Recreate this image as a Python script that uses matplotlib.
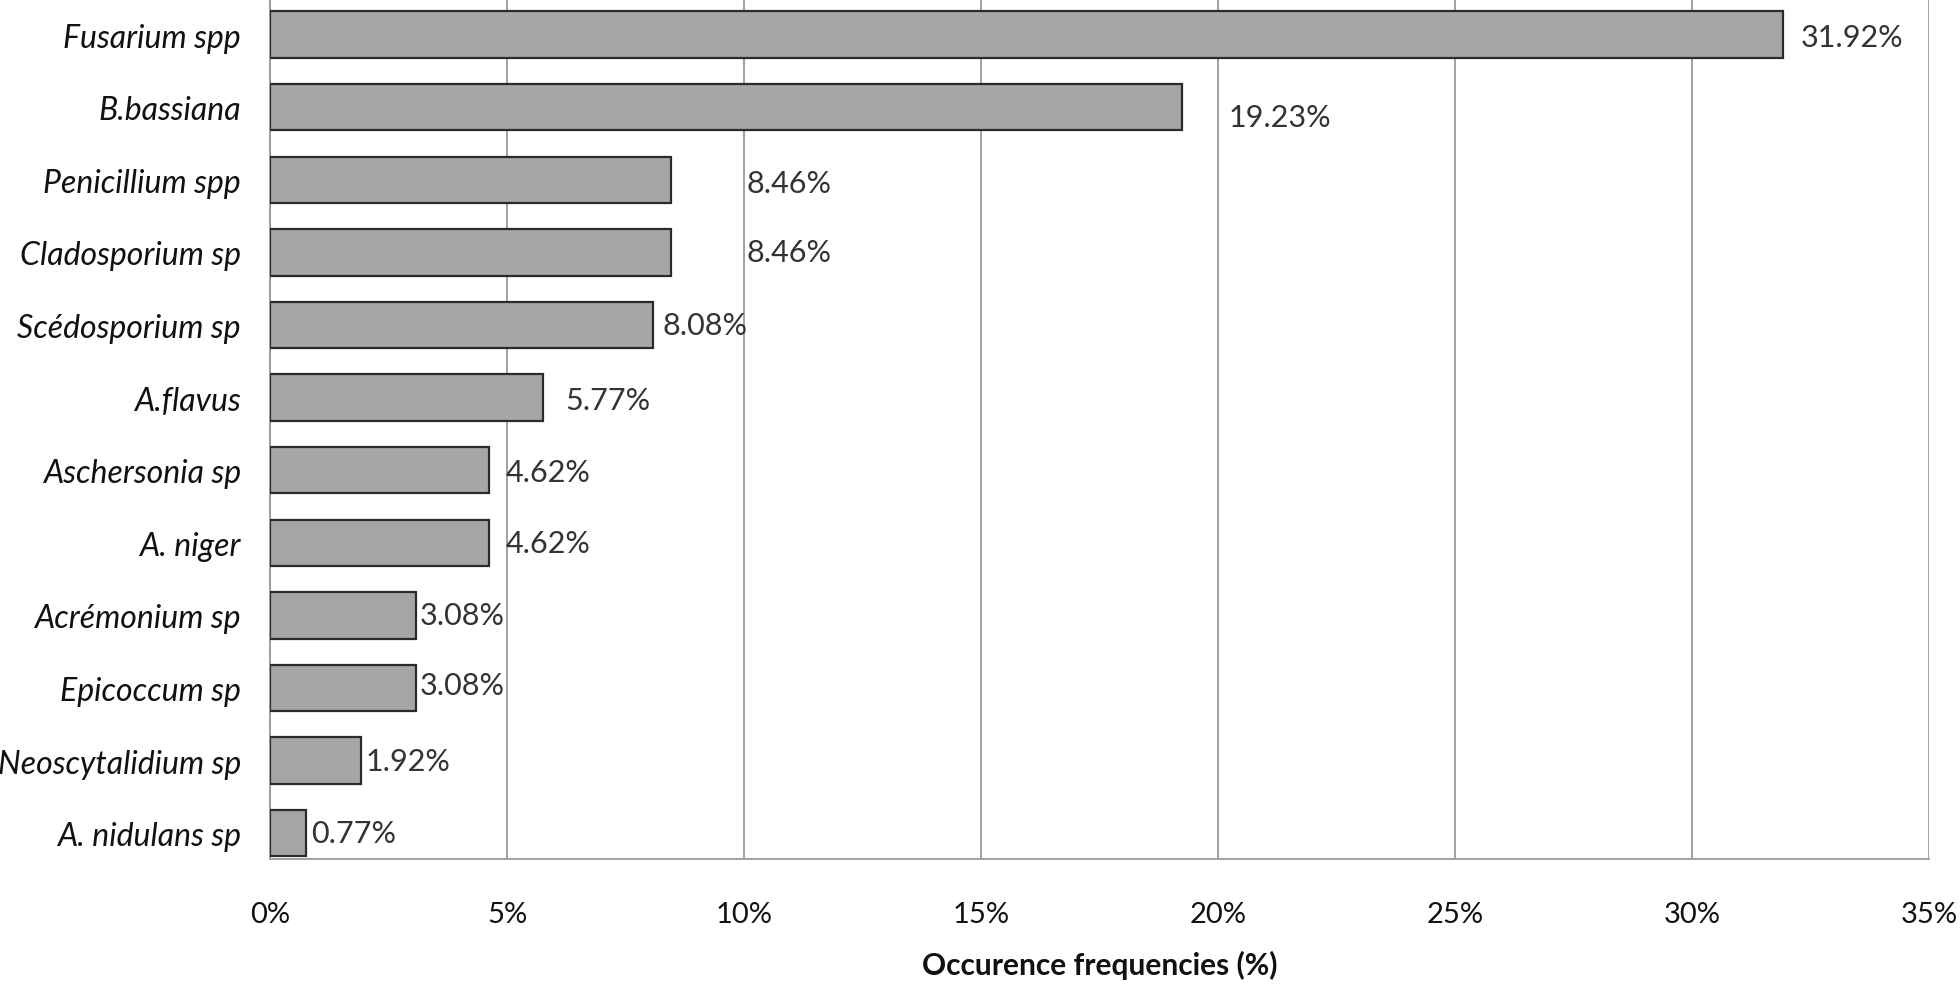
import matplotlib
matplotlib.use("Agg")
import matplotlib.pyplot as plt
from matplotlib.ticker import FuncFormatter

categories = ["Fusarium spp", "B.bassiana", "Penicillium spp", "Cladosporium sp",
              "Scédosporium sp", "A.flavus", "Aschersonia sp", "A. niger",
              "Acrémonium sp", "Epicoccum sp", "Neoscytalidium sp", "A. nidulans sp"]
values = [31.92, 19.23, 8.46, 8.46, 8.08, 5.77, 4.62, 4.62, 3.08, 3.08, 1.92, 0.77]
value_labels = ["31.92%", "19.23%", "8.46%", "8.46%", "8.08%", "5.77%",
                "4.62%", "4.62%", "3.08%", "3.08%", "1.92%", "0.77%"]
x_ticks = [0, 5, 10, 15, 20, 25, 30, 35]
x_label = "Occurence frequencies (%)"

# label placement (points offset from bar end, and vertical offset in points)
label_dx = [13, 34, 54, 54, 7, 16, 12, 12, 3, 3, 3, 3]
label_dy = [-2, -7, -2, 0, 0, -2, -1, 0, 0, 2, 0, 0]

plt.rcParams['font.family'] = ['Lato', 'DejaVu Sans']

fig = plt.figure(figsize=(19.6, 9.87), dpi=100)
ax = fig.add_axes([270/1960, 1 - 860/987, (1929-270)/1960, 860/987])

ypos = list(range(len(categories)))
ax.barh(ypos, values, height=0.64, color="#A6A6A6", edgecolor="#2b2b2b",
        linewidth=1.6, zorder=3)

ax.set_xlim(0, 35)
ax.set_ylim(11.355, -0.49)
ax.set_xticks(x_ticks)
ax.xaxis.set_major_formatter(FuncFormatter(lambda v, p: f"{int(round(v))}%"))
ax.set_yticks(ypos)
ax.set_yticklabels(categories, style="italic", fontsize=23, color="#111111")
ax.tick_params(axis="y", length=0, pad=21)
ax.tick_params(axis="x", length=0, pad=30, labelsize=21, labelcolor="#111111")

ax.grid(axis="x", color="#9a9a9a", linewidth=1.3, zorder=0)
for s in ["top", "right"]:
    ax.spines[s].set_visible(False)
for s in ["left", "bottom"]:
    ax.spines[s].set_color("#9a9a9a")
    ax.spines[s].set_linewidth(1.3)

for y, v, t, dx, dy in zip(ypos, values, value_labels, label_dx, label_dy):
    ax.annotate(t, xy=(v, y), xytext=(dx, dy), textcoords="offset points",
                ha="left", va="center", fontsize=22, color="#333333", zorder=4)

ax.set_xlabel(x_label, fontsize=21.5, fontweight="bold", labelpad=17, color="#111111")

fig.savefig("out.png", dpi=100)
